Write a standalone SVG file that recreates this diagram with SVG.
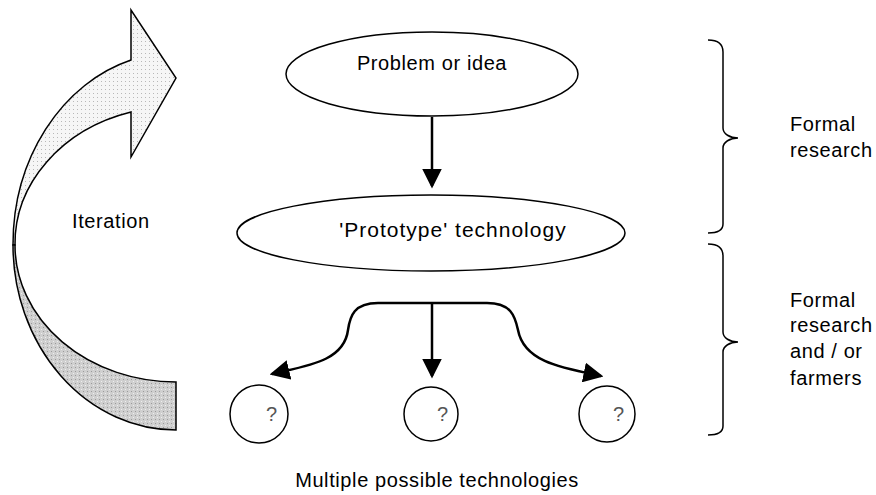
<svg xmlns="http://www.w3.org/2000/svg" width="876" height="495" viewBox="0 0 876 495">
<style>
text{font-family:"Liberation Sans",Arial,sans-serif;fill:#000}
.lbl{font-size:20px;letter-spacing:0.6px}
.node{fill:#fff;stroke:#000;stroke-width:1.5}
.conn{fill:none;stroke:#000;stroke-width:2.5}
.brace{fill:none;stroke:#000;stroke-width:1.5}
.q{font-size:20px;fill:#555}
</style>
<defs>
<pattern id="dotsLight" width="4" height="4" patternUnits="userSpaceOnUse">
<rect width="4" height="4" fill="#f6f6f6"/>
<rect x="1" y="1" width="1" height="1" fill="#b8b8b8"/>
</pattern>
<pattern id="dotsDark" width="4" height="4" patternUnits="userSpaceOnUse">
<rect width="4" height="4" fill="#cfcfcf"/>
<rect x="1" y="1" width="1" height="1" fill="#eeeeee"/>
<rect x="3" y="3" width="1" height="1" fill="#9a9a9a"/>
</pattern>
<marker id="ah" markerWidth="8" markerHeight="8" refX="7" refY="4" orient="auto" markerUnits="strokeWidth">
<path d="M0,0 L8,4 L0,8 Z" fill="#000"/>
</marker>
</defs>

<g id="iteration-arrow">
<path d="M131,60 A163,192 0 0 0 13,245 L15,245 A161,137 0 0 1 131,112 L131,157 L176,78 L131,10 Z" fill="url(#dotsLight)" stroke="#000" stroke-width="1.5" stroke-linejoin="miter"/>
<path d="M13,245 A163,185 0 0 0 176,430 L176,382 A161,137 0 0 1 15,245 Z" fill="url(#dotsDark)" stroke="#000" stroke-width="1.5"/>
<text class="lbl" x="72" y="228">Iteration</text>
</g>

<g id="connectors">
<line class="conn" x1="432" y1="117" x2="432" y2="186" marker-end="url(#ah)"/>
<line class="conn" x1="432" y1="303" x2="432" y2="376" marker-end="url(#ah)"/>
<path class="conn" d="M432,303 H378 C354,303 350,316 348,330 C344,362 305,366 272,374" marker-end="url(#ah)"/>
<path class="conn" d="M432,303 H487 C511,303 515,316 518,330 C524,362 562,368 601,376" marker-end="url(#ah)"/>
</g>

<g id="problem">
<ellipse class="node" cx="432" cy="74" rx="146" ry="42"/>
<text class="lbl" x="432" y="70" text-anchor="middle">Problem or idea</text>
</g>

<g id="prototype">
<ellipse class="node" cx="431" cy="233" rx="194" ry="38"/>
<text class="lbl" x="453" y="237" text-anchor="middle" style="font-size:21px;letter-spacing:1px">'Prototype' technology</text>
</g>

<g id="tech1">
<circle class="node" cx="259" cy="414" r="29"/>
<text class="q" x="266" y="421">?</text>
</g>
<g id="tech2">
<circle class="node" cx="431" cy="414" r="27"/>
<text class="q" x="437" y="421">?</text>
</g>
<g id="tech3">
<circle class="node" cx="607" cy="414" r="28"/>
<text class="q" x="613" y="421">?</text>
</g>

<g id="multiple-label">
<text class="lbl" x="437" y="487" text-anchor="middle" style="font-size:20px">Multiple possible technologies</text>
</g>

<g id="brace-formal">
<path class="brace" d="M708,40 C718,40 723,44 723,52 L723,128 C723,134 730,138 738,138 C730,138 723,142 723,148 L723,224 C723,230 718,233 708,233"/>
<text class="lbl" x="790" y="131">Formal</text>
<text class="lbl" x="790" y="157">research</text>
</g>

<g id="brace-farmers">
<path class="brace" d="M708,244 C718,244 723,248 723,256 L723,332 C723,338 730,342 738,342 C730,342 723,346 723,352 L723,426 C723,432 718,435 708,435"/>
<text class="lbl" x="790" y="307">Formal</text>
<text class="lbl" x="790" y="332">research</text>
<text class="lbl" x="790" y="358">and / or</text>
<text class="lbl" x="790" y="385">farmers</text>
</g>
</svg>
